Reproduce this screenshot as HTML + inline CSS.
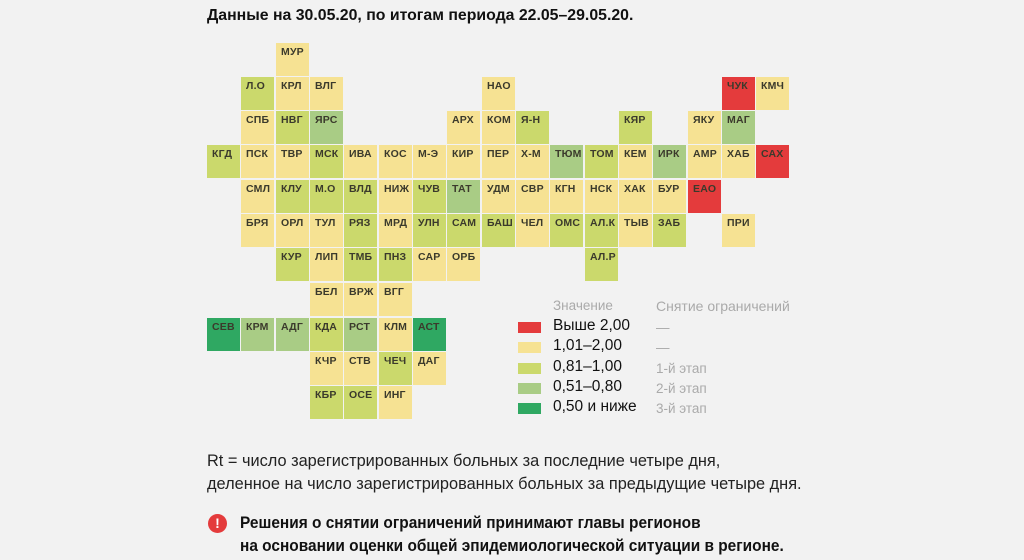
<!DOCTYPE html>
<html><head><meta charset="utf-8"><style>
body{margin:0;width:1024px;height:560px;background:#f2f2f2;position:relative;overflow:hidden;font-family:"Liberation Sans","DejaVu Sans",sans-serif;}
.c{position:absolute;width:33px;height:33px;font-size:10.5px;font-weight:bold;color:#3b3a2c;box-sizing:border-box;padding:3px 0 0 5px;letter-spacing:0.2px}
.Y{background:#f6e293}.L{background:#cbd96c}.M{background:#a9cc85}.D{background:#2fa862}.R{background:#e43b3c}
.t{position:absolute;white-space:nowrap}
.sw{position:absolute;left:518px;width:23px;height:11px}
</style></head><body>
<div class="t" style="left:207px;top:7px;font-size:16px;font-weight:bold;color:#111;transform:scaleX(0.99);transform-origin:left">Данные на 30.05.20, по итогам периода 22.05–29.05.20.</div>

<div class="c Y" style="left:276px;top:43px">МУР</div>

<div class="c L" style="left:241px;top:77px">Л.О</div>
<div class="c Y" style="left:276px;top:77px">КРЛ</div>
<div class="c Y" style="left:310px;top:77px">ВЛГ</div>
<div class="c Y" style="left:482px;top:77px">НАО</div>
<div class="c R" style="left:722px;top:77px">ЧУК</div>
<div class="c Y" style="left:756px;top:77px">КМЧ</div>

<div class="c Y" style="left:241px;top:111px">СПБ</div>
<div class="c L" style="left:276px;top:111px">НВГ</div>
<div class="c M" style="left:310px;top:111px">ЯРС</div>
<div class="c Y" style="left:447px;top:111px">АРХ</div>
<div class="c Y" style="left:482px;top:111px">КОМ</div>
<div class="c L" style="left:516px;top:111px">Я-Н</div>
<div class="c L" style="left:619px;top:111px">КЯР</div>
<div class="c Y" style="left:688px;top:111px">ЯКУ</div>
<div class="c M" style="left:722px;top:111px">МАГ</div>

<div class="c L" style="left:207px;top:145px">КГД</div>
<div class="c Y" style="left:241px;top:145px">ПСК</div>
<div class="c Y" style="left:276px;top:145px">ТВР</div>
<div class="c L" style="left:310px;top:145px">МСК</div>
<div class="c Y" style="left:344px;top:145px">ИВА</div>
<div class="c Y" style="left:379px;top:145px">КОС</div>
<div class="c Y" style="left:413px;top:145px">М-Э</div>
<div class="c Y" style="left:447px;top:145px">КИР</div>
<div class="c Y" style="left:482px;top:145px">ПЕР</div>
<div class="c Y" style="left:516px;top:145px">Х-М</div>
<div class="c M" style="left:550px;top:145px">ТЮМ</div>
<div class="c L" style="left:585px;top:145px">ТОМ</div>
<div class="c Y" style="left:619px;top:145px">КЕМ</div>
<div class="c M" style="left:653px;top:145px">ИРК</div>
<div class="c Y" style="left:688px;top:145px">АМР</div>
<div class="c Y" style="left:722px;top:145px">ХАБ</div>
<div class="c R" style="left:756px;top:145px">САХ</div>

<div class="c Y" style="left:241px;top:180px">СМЛ</div>
<div class="c L" style="left:276px;top:180px">КЛУ</div>
<div class="c L" style="left:310px;top:180px">М.О</div>
<div class="c L" style="left:344px;top:180px">ВЛД</div>
<div class="c Y" style="left:379px;top:180px">НИЖ</div>
<div class="c L" style="left:413px;top:180px">ЧУВ</div>
<div class="c M" style="left:447px;top:180px">ТАТ</div>
<div class="c Y" style="left:482px;top:180px">УДМ</div>
<div class="c Y" style="left:516px;top:180px">СВР</div>
<div class="c Y" style="left:550px;top:180px">КГН</div>
<div class="c Y" style="left:585px;top:180px">НСК</div>
<div class="c Y" style="left:619px;top:180px">ХАК</div>
<div class="c Y" style="left:653px;top:180px">БУР</div>
<div class="c R" style="left:688px;top:180px">ЕАО</div>

<div class="c Y" style="left:241px;top:214px">БРЯ</div>
<div class="c Y" style="left:276px;top:214px">ОРЛ</div>
<div class="c Y" style="left:310px;top:214px">ТУЛ</div>
<div class="c L" style="left:344px;top:214px">РЯЗ</div>
<div class="c Y" style="left:379px;top:214px">МРД</div>
<div class="c L" style="left:413px;top:214px">УЛН</div>
<div class="c L" style="left:447px;top:214px">САМ</div>
<div class="c L" style="left:482px;top:214px">БАШ</div>
<div class="c Y" style="left:516px;top:214px">ЧЕЛ</div>
<div class="c L" style="left:550px;top:214px">ОМС</div>
<div class="c L" style="left:585px;top:214px">АЛ.К</div>
<div class="c Y" style="left:619px;top:214px">ТЫВ</div>
<div class="c L" style="left:653px;top:214px">ЗАБ</div>
<div class="c Y" style="left:722px;top:214px">ПРИ</div>

<div class="c L" style="left:276px;top:248px">КУР</div>
<div class="c Y" style="left:310px;top:248px">ЛИП</div>
<div class="c L" style="left:344px;top:248px">ТМБ</div>
<div class="c L" style="left:379px;top:248px">ПНЗ</div>
<div class="c Y" style="left:413px;top:248px">САР</div>
<div class="c Y" style="left:447px;top:248px">ОРБ</div>
<div class="c L" style="left:585px;top:248px">АЛ.Р</div>

<div class="c Y" style="left:310px;top:283px">БЕЛ</div>
<div class="c Y" style="left:344px;top:283px">ВРЖ</div>
<div class="c Y" style="left:379px;top:283px">ВГГ</div>

<div class="c D" style="left:207px;top:318px">СЕВ</div>
<div class="c M" style="left:241px;top:318px">КРМ</div>
<div class="c M" style="left:276px;top:318px">АДГ</div>
<div class="c L" style="left:310px;top:318px">КДА</div>
<div class="c M" style="left:344px;top:318px">РСТ</div>
<div class="c Y" style="left:379px;top:318px">КЛМ</div>
<div class="c D" style="left:413px;top:318px">АСТ</div>

<div class="c Y" style="left:310px;top:352px">КЧР</div>
<div class="c Y" style="left:344px;top:352px">СТВ</div>
<div class="c L" style="left:379px;top:352px">ЧЕЧ</div>
<div class="c Y" style="left:413px;top:352px">ДАГ</div>

<div class="c L" style="left:310px;top:386px">КБР</div>
<div class="c L" style="left:344px;top:386px">ОСЕ</div>
<div class="c Y" style="left:379px;top:386px">ИНГ</div>

<!-- legend -->
<div class="t" style="left:553px;top:298px;font-size:13.5px;color:#aaa">Значение</div>
<div class="t" style="left:656px;top:298px;font-size:14px;color:#aaa">Снятие ограничений</div>
<div class="sw R" style="top:322px"></div>
<div class="sw Y" style="top:342px"></div>
<div class="sw L" style="top:363px"></div>
<div class="sw M" style="top:383px"></div>
<div class="sw D" style="top:403px"></div>
<div class="t" style="left:553px;top:317px;font-size:15.5px;color:#111">Выше 2,00</div>
<div class="t" style="left:553px;top:337px;font-size:15.5px;color:#111">1,01–2,00</div>
<div class="t" style="left:553px;top:358px;font-size:15.5px;color:#111">0,81–1,00</div>
<div class="t" style="left:553px;top:378px;font-size:15.5px;color:#111">0,51–0,80</div>
<div class="t" style="left:553px;top:398px;font-size:15.5px;color:#111">0,50 и ниже</div>
<div class="t" style="left:656px;top:320px;font-size:13.5px;color:#aaa">—</div>
<div class="t" style="left:656px;top:340px;font-size:13.5px;color:#aaa">—</div>
<div class="t" style="left:656px;top:361px;font-size:13.5px;color:#aaa">1-й этап</div>
<div class="t" style="left:656px;top:381px;font-size:13.5px;color:#aaa">2-й этап</div>
<div class="t" style="left:656px;top:401px;font-size:13.5px;color:#aaa">3-й этап</div>

<div class="t" style="left:207px;top:450px;font-size:16.5px;color:#222;line-height:23px;transform:scaleX(0.99);transform-origin:left">Rt = число зарегистрированных больных за последние четыре дня,<br>деленное на число зарегистрированных больных за предыдущие четыре дня.</div>

<div style="position:absolute;left:208px;top:514px;width:19px;height:19px;border-radius:50%;background:#e43b3c;color:#fff;font-weight:bold;font-size:14px;text-align:center;line-height:19px">!</div>
<div class="t" style="left:240px;top:512px;font-size:16.5px;font-weight:bold;color:#111;line-height:23px;transform:scaleX(0.935);transform-origin:left">Решения о снятии ограничений принимают главы регионов<br>на основании оценки общей эпидемиологической ситуации в регионе.</div>
</body></html>
